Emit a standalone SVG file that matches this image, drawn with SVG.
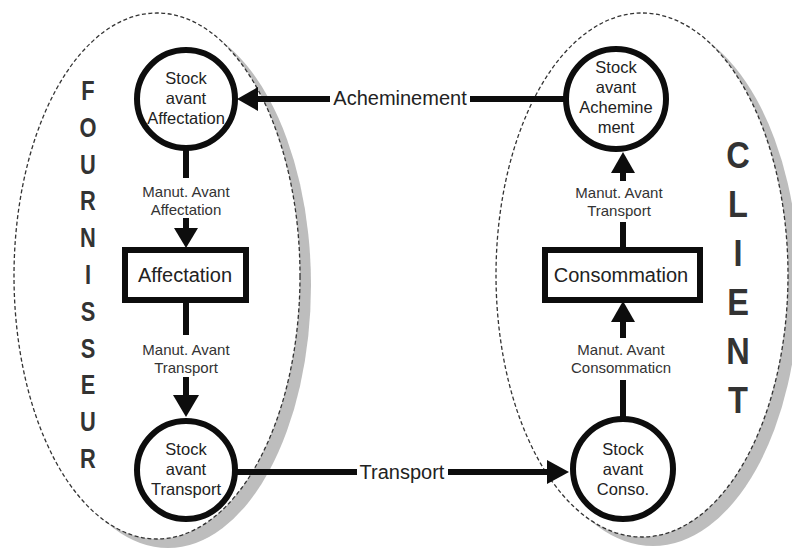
<svg xmlns="http://www.w3.org/2000/svg" width="792" height="559" viewBox="0 0 792 559">
<defs>
<style>
.shadow{fill:#bdbdbd;stroke:none}
.zone{fill:#ffffff;stroke:#333;stroke-width:1.3;stroke-dasharray:4 2.5}
.node{fill:#fff;stroke:#0d0d0d;stroke-width:6}
.conn{stroke:#0d0d0d;stroke-width:6;fill:none}
.head{fill:#0d0d0d;stroke:none}
.t{font-family:"Liberation Sans",Arial,sans-serif;fill:#222;text-anchor:middle}
.nt{font-size:16.5px}
.bt{font-size:20px}
.lt{font-size:15px;fill:#333}
.ct{font-size:20px}
.big{font-family:"Liberation Sans",Arial,sans-serif;font-weight:bold;fill:#333;text-anchor:middle}
</style>
</defs>
<rect width="792" height="559" fill="#fff"/>

<g id="zone-fournisseur">
<ellipse class="shadow" cx="168" cy="285" rx="143" ry="263"/>
<ellipse class="zone" cx="157" cy="276" rx="143" ry="263"/>
<g class="big" font-size="28">
<text transform="translate(88,100) scale(0.78,1)">F</text>
<text transform="translate(88,137) scale(0.78,1)">O</text>
<text transform="translate(88,174) scale(0.78,1)">U</text>
<text transform="translate(88,210) scale(0.78,1)">R</text>
<text transform="translate(88,247) scale(0.78,1)">N</text>
<text transform="translate(88,284) scale(0.78,1)">I</text>
<text transform="translate(88,321) scale(0.78,1)">S</text>
<text transform="translate(88,358) scale(0.78,1)">S</text>
<text transform="translate(88,394) scale(0.78,1)">E</text>
<text transform="translate(88,431) scale(0.78,1)">U</text>
<text transform="translate(88,468) scale(0.78,1)">R</text>
</g>
</g>

<g id="zone-client">
<ellipse class="shadow" cx="653" cy="284" rx="146" ry="262"/>
<ellipse class="zone" cx="642" cy="275" rx="146" ry="262"/>
<g class="big" font-size="37">
<text transform="translate(738,168) scale(0.88,1)">C</text>
<text transform="translate(738,217) scale(0.88,1)">L</text>
<text transform="translate(738,266) scale(0.88,1)">I</text>
<text transform="translate(738,315) scale(0.88,1)">E</text>
<text transform="translate(738,364) scale(0.88,1)">N</text>
<text transform="translate(738,413) scale(0.88,1)">T</text>
</g>
</g>

<g id="connectors">
<!-- Stock avant Affectation -> Affectation -->
<line class="conn" x1="186" y1="150" x2="186" y2="178"/>
<line class="conn" x1="186" y1="218" x2="186" y2="230"/>
<polygon class="head" points="174,228 198,228 186,248"/>
<text class="t lt" x="186" y="197">Manut. Avant</text>
<text class="t lt" x="186" y="215">Affectation</text>
<!-- Affectation -> Stock avant Transport -->
<line class="conn" x1="186" y1="300" x2="186" y2="335"/>
<line class="conn" x1="186" y1="377" x2="186" y2="397"/>
<polygon class="head" points="173,395 199,395 186,417"/>
<text class="t lt" x="186" y="355">Manut. Avant</text>
<text class="t lt" x="186" y="373">Transport</text>
<!-- Transport -->
<line class="conn" x1="236" y1="472" x2="357" y2="472"/>
<line class="conn" x1="448" y1="472" x2="549" y2="472"/>
<polygon class="head" points="547,460 547,484 569,472"/>
<text class="t ct" x="402" y="479">Transport</text>
<!-- Stock avant Conso -> Consommation -->
<line class="conn" x1="623" y1="418" x2="623" y2="380"/>
<line class="conn" x1="623" y1="338" x2="623" y2="320"/>
<polygon class="head" points="611,322 635,322 623,301"/>
<text class="t lt" x="621" y="355">Manut. Avant</text>
<text class="t lt" x="621" y="373">Consommaticn</text>
<!-- Consommation -> Stock avant Acheminement -->
<line class="conn" x1="623" y1="248" x2="623" y2="222"/>
<line class="conn" x1="623" y1="181" x2="623" y2="171"/>
<polygon class="head" points="611,173 635,173 623,152"/>
<text class="t lt" x="619" y="198">Manut. Avant</text>
<text class="t lt" x="619" y="216">Transport</text>
<!-- Acheminement -->
<line class="conn" x1="566" y1="99" x2="470" y2="99"/>
<line class="conn" x1="330" y1="99" x2="256" y2="99"/>
<polygon class="head" points="258,87 258,111 237,99"/>
<text class="t ct" x="400" y="105">Acheminement</text>
</g>

<g id="stock-avant-affectation">
<circle class="node" cx="186" cy="99" r="49"/>
<text class="t nt" x="186" y="84">Stock</text>
<text class="t nt" x="186" y="104">avant</text>
<text class="t nt" x="186" y="124">Affectation</text>
</g>

<g id="affectation">
<rect class="node" x="125" y="250" width="121" height="50"/>
<text class="t bt" x="185" y="282">Affectation</text>
</g>

<g id="stock-avant-transport">
<circle class="node" cx="186" cy="470" r="49"/>
<text class="t nt" x="186" y="455">Stock</text>
<text class="t nt" x="186" y="475">avant</text>
<text class="t nt" x="186" y="495">Transport</text>
</g>

<g id="stock-avant-acheminement">
<circle class="node" cx="616" cy="99" r="50"/>
<text class="t nt" x="616" y="73">Stock</text>
<text class="t nt" x="616" y="93">avant</text>
<text class="t nt" x="616" y="113">Achemine</text>
<text class="t nt" x="616" y="133">ment</text>
</g>

<g id="consommation">
<rect class="node" x="545" y="250" width="155" height="50"/>
<text class="t bt" x="621" y="282">Consommation</text>
</g>

<g id="stock-avant-conso">
<circle class="node" cx="623" cy="469" r="50"/>
<text class="t nt" x="623" y="455">Stock</text>
<text class="t nt" x="623" y="475">avant</text>
<text class="t nt" x="623" y="495">Conso.</text>
</g>
</svg>
